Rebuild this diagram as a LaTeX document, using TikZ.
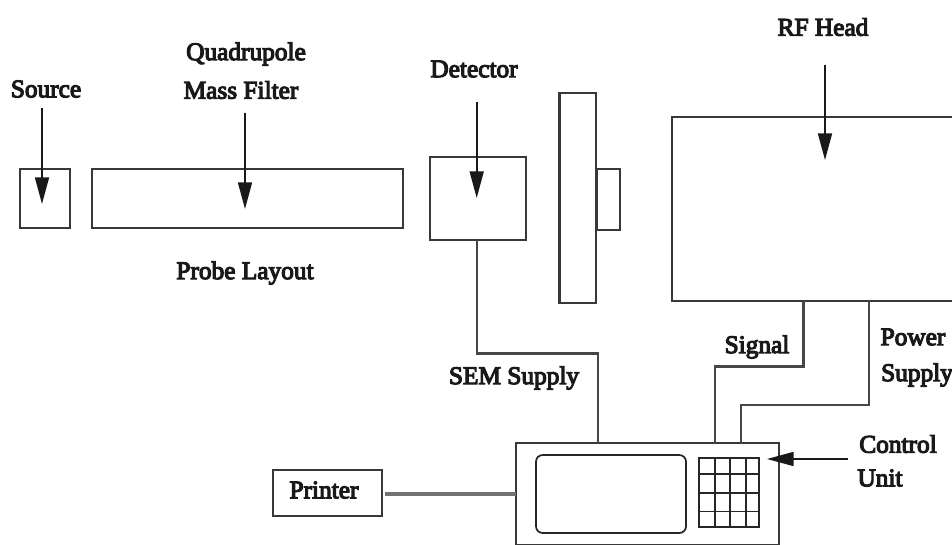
\documentclass[tikz,border=0pt]{standalone}
\usepackage{fontspec}
\setmainfont{Liberation Serif}[FakeBold=4.5]
\usetikzlibrary{arrows.meta,positioning}
\tikzset{
  x=0.75pt,y=-0.75pt,
  box/.style={draw=black!78,line width=1.7pt,inner sep=0pt,outer sep=0pt,rectangle,anchor=north west},
  thinbox/.style={draw=black!85,line width=1.3pt,inner sep=0pt,outer sep=0pt,rectangle,anchor=north west},
  wire/.style={draw=black!72,line width=1.8pt},
  thickwire/.style={draw=black!55,line width=2.4pt},
  pointer/.style={draw=black!90,line width=1.3pt,-{Triangle[length=20pt,width=10.5pt]}},
  lab/.style={font=\fontsize{19}{21}\selectfont,inner sep=0pt,text=black!90,anchor=center},
  grid line/.style={draw=black!85,line width=1.2pt}
}
\begin{document}
\begin{tikzpicture}
\useasboundingbox (0,0) rectangle (952,545);
% boxes
\node[box,minimum width=37.5pt,minimum height=44.25pt] (source) at (20,169) {};
\node[box,minimum width=233.25pt,minimum height=44.25pt] (quad) at (92,169) {};
\node[box,minimum width=72pt,minimum height=62.25pt] (det) at (430,157) {};
\node[box,minimum width=17.5pt,minimum height=45.75pt] (stub) at (596.5,169) {};
\node[box,minimum width=27.5pt,minimum height=157.5pt] (slab) at (559.5,93) {};
\node[box,minimum width=81.75pt,minimum height=34.5pt] (printer) at (273,470) {};
\node[box,minimum width=197.25pt,minimum height=76.5pt] (ctrl) at (516,443) {};
\node[thinbox,minimum width=112.5pt,minimum height=58.5pt,rounded corners=5pt] (display) at (536,455) {};
\node[thinbox,minimum width=45pt,minimum height=52pt] (keys) at (699,458) {};
% RF head runs off the right edge
\coordinate (rfNW) at (672,117);
\coordinate (rfNE) at (953,117);
\coordinate (rfSW) at (672,301);
\coordinate (rfSE) at (953,301);
\draw[box] (rfNE) -- (rfNW) -- (rfSW) -- (rfSE);
% keypad grid
\foreach \k/\gx in {a/715,b/730,c/746}
  \draw[grid line] (\gx,458) -- (\gx,527.5);
\foreach \k/\gy in {a/474,b/493,c/511.5}
  \draw[grid line] (699,\gy) -- (759,\gy);
% labels
\node[lab] (lsource) at (46,89) {Source};
\node[lab] (lquad) at (246,54) {Quadrupole};
\node[lab] (lmass) at (241,90) {Mass Filter};
\node[lab] (lprobe) at (245,273) {Probe Layout};
\node[lab] (ldet) at (474,69) {Detector};
\node[lab] (lrf) at (823,27) {RF Head};
\node[lab] (lsignal) at (757,347) {Signal};
\node[lab] (lpower) at (913,337) {Power};
\node[lab] (lsupply) at (917,375) {Supply};
\node[lab] (lsem) at (514,378) {SEM Supply};
\node[lab] (lcontrol) at (898,444) {Control};
\node[lab] (lunit) at (880,478) {Unit};
\node[lab] (lprinter) at (324,490) {Printer};
% pointers
\coordinate (a1) at (42,108); \coordinate (a2) at (42,204);
\coordinate (b1) at (245,113); \coordinate (b2) at (245,209);
\coordinate (c1) at (476.7,102); \coordinate (c2) at (476.7,198);
\coordinate (d1) at (825,65); \coordinate (d2) at (825,160);
\coordinate (e1) at (847.5,459); \coordinate (e2) at (767,459);
\draw[pointer] (a1) -- (a2);
\draw[pointer] (b1) -- (b2);
\draw[pointer] (c1) -- (c2);
\draw[pointer] (d1) -- (d2);
\draw[pointer] (e1) -- (e2);
% wires
\coordinate (p1) at (385,494);
\draw[thickwire] (p1) -- (p1 -| ctrl.west);
\draw[wire] (476.7,240) -- (476.7,353.5) -- (598,353.5) -- (598,443);
\draw[wire] (803.5,301) -- (803.5,366.5) -- (715,366.5) -- (715,443);
\draw[wire] (869,301) -- (869,405) -- (741,405) -- (741,443);
\end{tikzpicture}
\end{document}
